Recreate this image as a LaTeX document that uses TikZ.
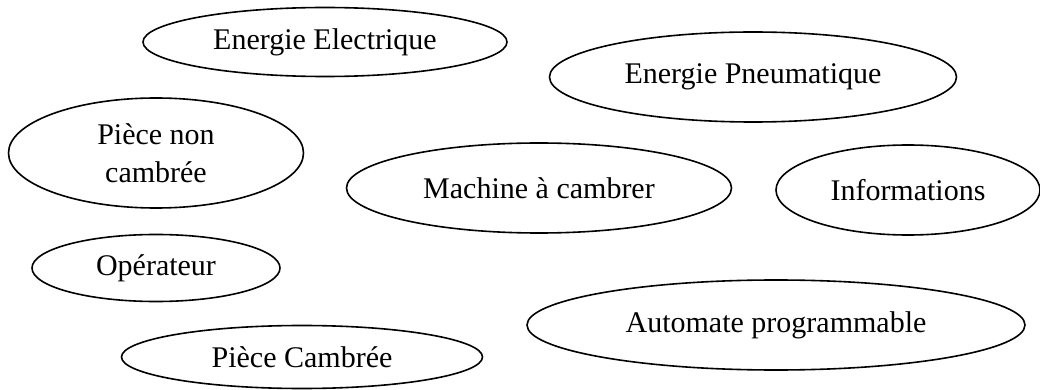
\documentclass[tikz,border=0pt]{standalone}
\usepackage{fontspec}
\setmainfont{Liberation Serif}
\usetikzlibrary{shapes.geometric}

\begin{document}
\begin{tikzpicture} [x=0.5pt,y=-0.5pt,
  bulle/.style=
  {ellipse, draw=black, line width=0.8pt, inner sep=0pt,
    font=\fontsize{15}{19}\selectfont, align=center}]
\useasboundingbox (0,0) rectangle (1040,390);
\node [bulle,minimum width=182pt,minimum height=34.5pt] (elec) at (325,42) {Energie Electrique};
\node [bulle,minimum width=203.5pt,minimum height=45pt] (pneu) at (753,77) {Energie Pneumatique};
\node [bulle,minimum width=147.5pt,minimum height=55pt] (pieceNon) at (156,153) {Pièce non\\cambrée};
\node [bulle,minimum width=192.5pt,minimum height=45pt] (machine) at (539,188) {Machine à cambrer};
\node [bulle,minimum width=132pt,minimum height=45pt] (infos) at (908,190) {Informations};
\node [bulle,minimum width=124pt,minimum height=33.5pt] (operateur) at (156,268) {Opérateur};
\node [bulle,minimum width=249pt,minimum height=45pt] (automate) at (776,325) {Automate programmable};
\node [bulle,minimum width=180.5pt,minimum height=31.5pt] (pieceCamb) at (302,357) {Pièce Cambrée};

\end{tikzpicture}
\end{document}
